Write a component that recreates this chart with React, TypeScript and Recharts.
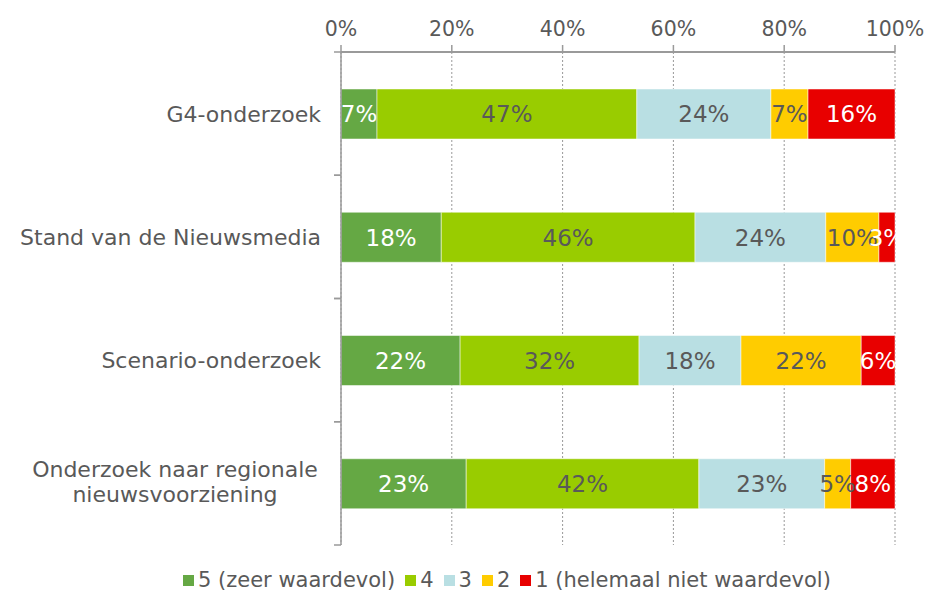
import { BarChart, Bar, XAxis, YAxis, CartesianGrid, LabelList } from 'recharts'

const categories = [
  'G4-onderzoek',
  'Stand van de Nieuwsmedia',
  'Scenario-onderzoek',
  'Onderzoek naar regionale nieuwsvoorziening',
]
const zeerWaardevol = [6.5, 18.1, 21.5, 22.6]
const vier = [46.9, 45.8, 32.3, 42.0]
const drie = [24.2, 23.6, 18.4, 22.7]
const twee = [6.7, 9.6, 21.7, 4.7]
const nietWaardevol = [15.7, 2.9, 6.1, 8.0]
const xTicks = [0, 20, 40, 60, 80, 100]

const TEXT = '#595959'
const AXIS = '#9a9a9a'
const FONT = '"DejaVu Sans", Verdana, sans-serif'

const series = [
  { key: 's5', name: '5 (zeer waardevol)', color: '#65a844', label: '#ffffff' },
  { key: 's4', name: '4', color: '#99cc00', label: TEXT },
  { key: 's3', name: '3', color: '#b9dfe3', label: TEXT },
  { key: 's2', name: '2', color: '#ffcc00', label: TEXT },
  { key: 's1', name: '1 (helemaal niet waardevol)', color: '#e80000', label: '#ffffff' },
]

const data = categories.map((name, i) => ({
  name,
  s5: zeerWaardevol[i],
  s4: vier[i],
  s3: drie[i],
  s2: twee[i],
  s1: nietWaardevol[i],
}))

// category ticks: label plus small tick marks on the band boundaries
function CategoryTick(props: any) {
  const { x, y, payload } = props
  const half = 493 / categories.length / 2
  const name: string = payload.value
  const lines =
    name === 'Onderzoek naar regionale nieuwsvoorziening'
      ? ['Onderzoek naar regionale', 'nieuwsvoorziening']
      : [name]
  return (
    <g>
      <line x1={x - 7} x2={x} y1={y - half} y2={y - half} stroke={AXIS} strokeWidth={1.5} />
      <line x1={x - 7} x2={x} y1={y + half} y2={y + half} stroke={AXIS} strokeWidth={1.5} />
      {lines.length === 1 ? (
        <text x={x - 20} y={y} dy="0.36em" textAnchor="end" fill={TEXT} fontSize={22} fontFamily={FONT}>
          {name}
        </text>
      ) : (
        <text x={x - 166} y={y} textAnchor="middle" fill={TEXT} fontSize={22} fontFamily={FONT}>
          <tspan x={x - 166} dy="-0.3em">{lines[0]}</tspan>
          <tspan x={x - 166} dy="1.15em">{lines[1]}</tspan>
        </text>
      )}
    </g>
  )
}

const makeLabel = (color: string) => (props: any) => {
  const { x, y, width, height, value } = props
  return (
    <text x={x + width / 2} y={y + height / 2} dy="0.36em" textAnchor="middle" fill={color} fontSize={23} fontFamily={FONT}>
      {Math.round(value)}%
    </text>
  )
}

function LegendRow() {
  return (
    <div
      style={{
        position: 'absolute',
        left: 183,
        top: 568,
        display: 'flex',
        alignItems: 'center',
        fontFamily: FONT,
        fontSize: 21,
        color: TEXT,
        whiteSpace: 'nowrap',
      }}
    >
      {series.map((s) => (
        <span key={s.key} style={{ display: 'flex', alignItems: 'center', marginRight: 10 }}>
          <span style={{ display: 'inline-block', width: 11, height: 11, background: s.color, marginRight: 4 }} />
          {s.name}
        </span>
      ))}
    </div>
  )
}

export default function App() {
  return (
    <div style={{ position: 'absolute', left: 0, top: 0, width: 927, height: 594, background: '#fff' }}>
      <BarChart
        width={927}
        height={594}
        data={data}
        layout="vertical"
        margin={{ top: 0, right: 32, bottom: 49, left: 0 }}
        barSize={50}
      >
        <CartesianGrid horizontal={false} stroke="#999" strokeDasharray="2 2" />
        <XAxis
          type="number"
          orientation="top"
          domain={[0, 100]}
          ticks={xTicks}
          tickFormatter={(v) => `${v}%`}
          height={52}
          axisLine={{ stroke: AXIS, strokeWidth: 2 }}
          tickLine={{ stroke: AXIS, strokeWidth: 1.5 }}
          tickSize={7}
          tickMargin={9}
          tick={{ fill: TEXT, fontSize: 20.5, fontFamily: FONT }}
        />
        <YAxis
          type="category"
          dataKey="name"
          width={341}
          axisLine={{ stroke: AXIS, strokeWidth: 1.5 }}
          tickLine={false}
          tickSize={0}
          tickMargin={0}
          tick={<CategoryTick />}
        />
        {series.map((s) => (
          <Bar
            key={s.key}
            dataKey={s.key}
            name={s.name}
            stackId="a"
            fill={s.color}
            stroke="#ffffff"
            strokeWidth={0.5}
            isAnimationActive={false}
          >
            <LabelList dataKey={s.key} content={makeLabel(s.label)} />
          </Bar>
        ))}
      </BarChart>
      <LegendRow />
    </div>
  )
}
